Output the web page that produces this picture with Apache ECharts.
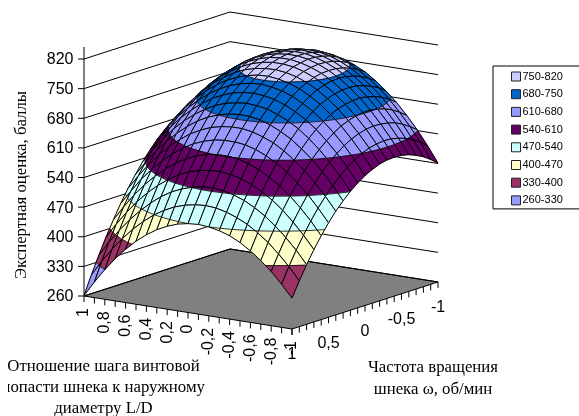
<!DOCTYPE html>
<html><head><meta charset="utf-8">
<style>html,body{margin:0;padding:0;background:#fff}#c{width:579px;height:416px}</style>
<script src="https://cdn.jsdelivr.net/npm/echarts@6/dist/echarts.min.js"></script>
</head><body><div id="c"></div>
<script>
const ldValues=[1,.9,.8,.7,.6,.5,.4,.3,.2,.1,0,-.1,-.2,-.3,-.4,-.5,-.6,-.7,-.8,-.9,-1];
const wValues=[1,.9,.8,.7,.6,.5,.4,.3,.2,.1,0,-.1,-.2,-.3,-.4,-.5,-.6,-.7,-.8,-.9,-1];
// one row per wValues entry, one column per ldValues entry
const scoreRows=[
[261,297,330,360,386,409,428,444,456,465,470,472,470,465,457,445,429,410,388,362,333],
[304,340,373,402,428,450,469,484,496,504,509,511,509,503,494,482,466,447,424,398,368],
[344,380,412,441,466,488,507,522,533,541,546,547,544,538,529,516,500,480,457,431,401],
[382,417,449,478,503,524,542,557,568,575,579,580,577,571,561,548,532,512,488,461,431],
[417,452,484,512,536,557,575,589,600,607,611,611,608,601,591,577,560,540,516,489,458],
[450,484,516,543,567,588,605,619,629,636,639,639,636,629,618,604,587,566,542,514,483],
[480,514,545,572,596,616,633,646,656,662,665,665,661,653,643,628,610,589,564,536,505],
[507,541,571,598,621,641,658,671,680,686,689,688,684,676,664,650,631,610,585,556,524],
[532,566,595,622,645,664,680,693,702,707,710,708,704,695,684,669,650,628,602,573,541],
[554,587,617,643,665,684,700,712,721,726,728,726,721,712,700,685,666,643,617,588,555],
[574,607,636,661,683,702,717,729,737,742,744,741,736,727,714,699,679,656,630,600,567],
[591,623,652,677,699,717,732,743,751,756,757,754,748,739,726,710,690,667,640,610,576],
[605,637,665,690,712,729,744,755,762,766,767,764,758,748,735,718,698,674,647,617,583],
[617,649,676,701,722,739,753,764,771,775,775,772,765,755,741,724,703,679,652,621,587],
[626,657,685,709,729,747,760,770,777,780,780,776,769,759,745,727,706,682,654,623,588],
[633,664,691,714,734,751,764,774,780,783,783,779,771,760,746,728,707,682,653,622,587],
[637,667,694,717,737,753,766,775,781,784,783,778,770,759,744,726,704,679,650,618,583],
[638,668,694,717,737,753,765,774,780,782,780,775,767,755,740,721,699,674,645,612,576],
[637,667,692,715,734,749,761,770,775,777,775,770,761,749,733,714,692,666,636,603,567],
[633,662,688,710,729,744,755,764,768,770,767,762,753,740,724,705,682,655,625,592,555],
[627,656,681,702,721,735,747,754,759,760,757,751,741,729,712,692,669,642,612,578,541]
];
const zTicks=[260,330,400,470,540,610,680,750,820];
const ldTicks=[1,.8,.6,.4,.2,0,-.2,-.4,-.6,-.8,-1];
const ldTickLabels=['1','0,8','0,6','0,4','0,2','0','-0,2','-0,4','-0,6','-0,8','-1'];
const wTicks=[1,.5,0,-.5,-1];
const wTickLabels=['1','0,5','0','-0,5','-1'];
const bandNames=['750-820','680-750','610-680','540-610','470-540','400-470','330-400','260-330'];
const bandLows=[750,680,610,540,470,400,330,260];
const bandHighs=[820,750,680,610,540,470,400,330];
const bandColors=['#CCCCFF','#0066CC','#9999FF','#660066','#CCFFFF','#FFFFCC','#993366','#9999FF'];

// oblique projection of the chart box onto the page plane
const corner={x:84,y:296}, ldDir={x:208,y:33}, wDir={x:146,y:-47}, zScale=237/560;
function project(ld,w,z){
  const u=(1-ld)/2, v=(1-w)/2;
  return [corner.x+u*ldDir.x+v*wDir.x, corner.y+u*ldDir.y+v*wDir.y-(z-zTicks[0])*zScale];
}
function clipAbove(poly,t,sign){
  const out=[];
  for(let k=0;k<poly.length;k++){
    const a=poly[k], b=poly[(k+1)%poly.length];
    const ina=sign*(a[2]-t)>=0, inb=sign*(b[2]-t)>=0;
    if(ina) out.push(a);
    if(ina!==inb){
      const f=(t-a[2])/(b[2]-a[2]);
      out.push([a[0]+f*(b[0]-a[0]),a[1]+f*(b[1]-a[1]),t]);
    }
  }
  return out;
}
function crossings(poly,t){
  const pts=[];
  for(let k=0;k<poly.length;k++){
    const a=poly[k], b=poly[(k+1)%poly.length];
    if((a[2]<t)!==(b[2]<t)){
      const f=(t-a[2])/(b[2]-a[2]);
      pts.push([a[0]+f*(b[0]-a[0]),a[1]+f*(b[1]-a[1]),t]);
    }
  }
  return pts;
}
const cells=[];
for(let i=wValues.length-1;i>0;i--) for(let j=0;j<ldValues.length-1;j++) cells.push([i,j]);

function renderCell(params,api){
  const i=api.value(0), j=api.value(1);
  const vtx=(r,c)=>[ldValues[c],wValues[r],scoreRows[r][c]];
  const quad=[vtx(i,j),vtx(i,j+1),vtx(i-1,j+1),vtx(i-1,j)];
  const toPx=p=>api.coord(project(p[0],p[1],p[2]));
  const children=[];
  bandNames.forEach((n,b)=>{
    let p=clipAbove(quad,bandLows[b],1);
    if(p.length) p=clipAbove(p,bandHighs[b],-1);
    if(p.length>2) children.push({type:'polygon',shape:{points:p.map(toPx)},
      style:{fill:bandColors[b],stroke:bandColors[b],lineWidth:.4}});
  });
  bandLows.forEach(t=>{
    const c=crossings(quad,t);
    for(let k=0;k+1<c.length;k+=2) children.push({type:'line',
      shape:{x1:toPx(c[k])[0],y1:toPx(c[k])[1],x2:toPx(c[k+1])[0],y2:toPx(c[k+1])[1]},
      style:{stroke:'#000',lineWidth:.8}});
  });
  children.push({type:'polygon',shape:{points:quad.map(toPx)},style:{fill:'none',stroke:'#000',lineWidth:1}});
  return {type:'group',children};
}
function seg(api,a,b,w){
  const p=api.coord(a), q=api.coord(b);
  return {type:'line',shape:{x1:p[0],y1:p[1],x2:q[0],y2:q[1]},style:{stroke:'#000',lineWidth:w||1}};
}
const tickLen=6;
function renderFrame(params,api){
  const z0=zTicks[0], children=[];
  const floor=[project(1,1,z0),project(-1,1,z0),project(-1,-1,z0),project(1,-1,z0)].map(p=>api.coord(p));
  children.push({type:'polygon',shape:{points:floor},style:{fill:'#808080',stroke:'#000',lineWidth:1}});
  zTicks.forEach(z=>{
    const a=project(1,1,z), b=project(1,-1,z), c=project(-1,-1,z);
    children.push(seg(api,a,b)); children.push(seg(api,b,c));
    children.push(seg(api,[a[0]-tickLen,a[1]],a));
    const t=api.coord([a[0]-10.5,a[1]+1]);
    children.push({type:'text',style:{text:String(z),x:t[0],y:t[1],align:'right',verticalAlign:'middle',
      font:'16px "Liberation Sans"',fill:'#000'}});
  });
  const top=project(1,1,zTicks[zTicks.length-1]);
  children.push(seg(api,[top[0],top[1]-12],project(1,1,z0)));
  ldValues.forEach(ld=>{const p=project(ld,1,z0);children.push(seg(api,p,[p[0],p[1]+tickLen]));});
  wValues.forEach(w=>{const p=project(-1,w,z0);children.push(seg(api,p,[p[0],p[1]+tickLen]));});
  ldTicks.forEach((ld,k)=>{
    const p=project(ld,1,z0), t=api.coord([p[0],p[1]+12]);
    children.push({type:'text',x:t[0],y:t[1],rotation:Math.PI/2,
      style:{text:ldTickLabels[k],x:0,y:0,align:'right',verticalAlign:'middle',font:'16px "Liberation Sans"',fill:'#000'}});
  });
  wTicks.forEach((w,k)=>{
    const p=project(-1,w,z0), t=api.coord([p[0],p[1]+26]);
    children.push({type:'text',style:{text:wTickLabels[k],x:t[0],y:t[1],align:'center',verticalAlign:'middle',
      font:'16px "Liberation Sans"',fill:'#000'}});
  });
  return {type:'group',children};
}
const titleFont='16.8px "Liberation Serif"';
function title(text,x,y,rot){
  return {type:'text',x,y,rotation:rot||0,silent:true,z:20,
    style:{text,x:0,y:0,align:'center',verticalAlign:'middle',font:titleFont,fill:'#000'}};
}
const chart=echarts.init(document.getElementById('c'),null,{renderer:'canvas'});
chart.setOption({
  animation:false,
  backgroundColor:'#fff',
  grid:{left:0,right:0,top:0,bottom:0},
  xAxis:{type:'value',min:0,max:579,show:false},
  yAxis:{type:'value',min:0,max:416,inverse:true,show:false},
  legend:{
    orient:'vertical',left:493,top:66,selectedMode:false,
    padding:[5,24,3,18],itemGap:6.7,itemWidth:9,itemHeight:9,
    borderColor:'#000',borderWidth:1,backgroundColor:'#fff',
    textStyle:{fontFamily:'Liberation Sans',fontSize:11,color:'#000',padding:[0,0,0,-3]},
    data:bandNames.map((name,b)=>({name,icon:'rect',itemStyle:{color:bandColors[b],borderColor:'#222',borderWidth:1}}))
  },
  series:[
    {type:'custom',name:'frame',coordinateSystem:'cartesian2d',data:[[0,0]],renderItem:renderFrame,silent:true,clip:false,z:1,encode:{x:0,y:1}},
    {type:'custom',name:'surface',coordinateSystem:'cartesian2d',data:cells,renderItem:renderCell,silent:true,clip:false,z:2,encode:{x:0,y:1}},
    ...bandNames.map((name,b)=>({type:'custom',name,coordinateSystem:'cartesian2d',data:[],renderItem:()=>null,itemStyle:{color:bandColors[b]}}))
  ],
  graphic:[
    title('Экспертная оценка, баллы',21.5,185,Math.PI/2),
    title('Отношение шага винтовой',103.5,367),
    title('лопасти шнека к наружному',103.5,388),
    {type:'rect',shape:{x:0,y:378,width:8,height:20},style:{fill:'#fff'},silent:true,z:21},
    title('диаметру L/D',103.5,409),
    title('Частота вращения',433,368),
    title('шнека ω, об/мин',433,390)
  ]
});
</script></body></html>
